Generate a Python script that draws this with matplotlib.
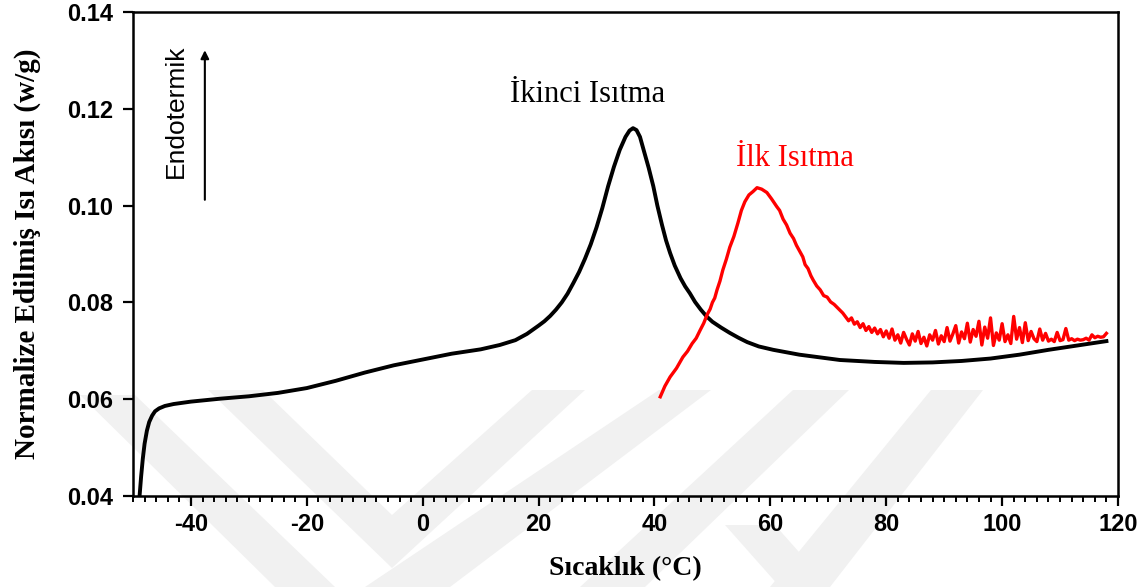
import numpy as np
import matplotlib.pyplot as plt
from matplotlib.patches import Polygon

plt.rcParams['axes.unicode_minus'] = False

# ikinci isitma (black)
x_ikinci = [-48.9, -48.6, -48.3, -48.0, -47.6, -47.2, -46.7, -46.2, -45.5, -44.5,
            -43.0, -40.0, -35.0, -30.0, -25.0, -20.0, -15.0, -10.0, -5.0, 0.0,
            5.0, 10.0, 13.3, 16.0, 18.0, 20.0, 21.0, 22.0, 23.0, 24.0,
            25.0, 26.0, 27.0, 28.0, 29.0, 30.0, 31.0, 32.0, 33.0, 34.0,
            35.0, 35.7, 36.3, 36.9, 37.5, 38.2, 39.0, 39.8, 40.5, 41.3,
            42.0, 42.7, 43.5, 44.5, 45.3, 46.1, 47.0, 48.0, 49.0, 50.0,
            51.5, 53.0, 54.5, 56.0, 58.0, 60.5, 65.0, 72.0, 78.0, 83.0,
            88.0, 93.0, 98.0, 103.0, 108.0, 113.0, 118.0]
y_ikinci = [0.0395, 0.0440, 0.0478, 0.0508, 0.0535, 0.0553, 0.0566, 0.0575, 0.0581, 0.0586,
            0.0590, 0.0595, 0.0601, 0.0606, 0.0613, 0.0623, 0.0638, 0.0655, 0.0670, 0.0682,
            0.0694, 0.0703, 0.0712, 0.0722, 0.0735, 0.0752, 0.0761, 0.0772, 0.0785, 0.0800,
            0.0818, 0.0840, 0.0863, 0.0890, 0.0920, 0.0955, 0.0995, 0.1040, 0.1080, 0.1115,
            0.1142, 0.1155, 0.1160, 0.1156, 0.1142, 0.1112, 0.1078, 0.1040, 0.1000, 0.0960,
            0.0928, 0.0902, 0.0876, 0.0850, 0.0833, 0.0819, 0.0801, 0.0785, 0.0771, 0.0760,
            0.0748, 0.0737, 0.0727, 0.0718, 0.0709, 0.0702, 0.0692, 0.0681, 0.0677, 0.0675,
            0.0676, 0.0679, 0.0684, 0.0692, 0.0702, 0.0711, 0.0720]

# ilk isitma (red), rising edge and peak
x_ilk = [41.0, 41.8, 42.7, 43.8, 44.9, 45.7, 46.5, 47.2, 47.9, 48.5,
         49.1, 49.6, 50.0, 50.4, 50.8, 51.3, 51.8, 52.4, 53.0, 53.7,
         54.4, 55.0, 55.6, 56.3, 57.0, 57.7, 58.5, 59.4, 60.2, 61.1,
         61.6, 62.2, 62.8, 63.4, 64.0, 64.5, 65.1, 65.6, 66.0, 66.5,
         67.0, 67.4, 68.0, 68.6, 69.2, 69.8, 70.4, 71.0, 71.5]
y_ilk = [0.0605, 0.0627, 0.0646, 0.0664, 0.0687, 0.0699, 0.0715, 0.0726, 0.0743, 0.0757,
         0.0775, 0.0786, 0.0800, 0.0809, 0.0826, 0.0844, 0.0867, 0.0889, 0.0914, 0.0936,
         0.0964, 0.0990, 0.1008, 0.1022, 0.1029, 0.1037, 0.1034, 0.1027, 0.1014, 0.0998,
         0.0990, 0.0972, 0.0960, 0.0943, 0.0932, 0.0918, 0.0905, 0.0894, 0.0878, 0.0870,
         0.0855, 0.0846, 0.0834, 0.0826, 0.0814, 0.0811, 0.0801, 0.0796, 0.0790]

# noisy baseline after the melt, sampled every 0.5 C from 72 to 118
y_ilk_tail = [0.0784, 0.0778, 0.0770, 0.0762, 0.0768, 0.0755, 0.0760,
              0.0748, 0.0756, 0.0742, 0.0750, 0.0738, 0.0747, 0.0735, 0.0744, 0.0729, 0.0741,
              0.0726, 0.0745, 0.0722, 0.0733, 0.0716, 0.0738, 0.0724, 0.0712, 0.0735, 0.0720,
              0.0740, 0.0715, 0.0728, 0.0710, 0.0733, 0.0722, 0.0742, 0.0714, 0.0731, 0.0719,
              0.0748, 0.0720, 0.0735, 0.0752, 0.0716, 0.0739, 0.0725, 0.0757, 0.0718, 0.0744,
              0.0730, 0.0761, 0.0712, 0.0749, 0.0726, 0.0768, 0.0711, 0.0737, 0.0722, 0.0756,
              0.0719, 0.0733, 0.0715, 0.0771, 0.0724, 0.0748, 0.0717, 0.0758, 0.0721, 0.0740,
              0.0725, 0.0719, 0.0745, 0.0722, 0.0736, 0.0720, 0.0724, 0.0719, 0.0738, 0.0721,
              0.0723, 0.0746, 0.0722, 0.0725, 0.0721, 0.0724, 0.0722, 0.0723, 0.0726, 0.0722,
              0.0733, 0.0727, 0.0730, 0.0728, 0.0729, 0.0736]
x_ilk_tail = np.arange(72.0, 118.01, 0.5)

fig = plt.figure(figsize=(11.42, 5.87), dpi=100)
W, H = 1142, 587

# faint background logo stripes (pixel coords, y from top)
stripes = [
    [(80, 395), (135, 395), (335, 587), (275, 587)],
    [(208, 390), (263, 390), (392, 515), (532, 390), (585, 390), (392, 568)],
    [(365, 587), (450, 587), (711, 390), (659, 390)],
    [(793, 390), (849, 390), (645, 587), (580, 587)],
    [(931, 390), (983, 390), (830, 587), (770, 587)],
    [(725, 525), (775, 525), (830, 587), (780, 587)],
]
for s in stripes:
    pts = [(px / W, 1 - py / H) for px, py in s]
    fig.patches.append(Polygon(pts, closed=True, transform=fig.transFigure,
                               facecolor='#f1f1f1', edgecolor='none', zorder=-5))

ax = fig.add_axes([133 / W, 1 - 496 / H, (1118 - 133) / W, (496 - 12) / H])
ax.set_zorder(1)
ax.patch.set_alpha(0)

ax.plot(x_ikinci, y_ikinci, color='black', lw=2.8, solid_joinstyle='round')
ax.plot(list(x_ilk) + list(x_ilk_tail), y_ilk + y_ilk_tail, color='#ff0000', lw=2.4,
        solid_joinstyle='round')

ax.set_xlim(-50, 120)
ax.set_ylim(0.04, 0.14)
ax.set_xticks(np.arange(-40, 121, 20))
ax.set_xticks(np.arange(-50, 121, 2), minor=True)
ax.set_yticks([0.04, 0.06, 0.08, 0.10, 0.12, 0.14])
ax.set_yticklabels(['0.04', '0.06', '0.08', '0.10', '0.12', '0.14'])

for sp in ax.spines.values():
    sp.set_linewidth(1.8)
ax.tick_params(which='major', direction='out', length=7, width=1.6)
ax.tick_params(which='minor', direction='out', length=4, width=1.4)
ax.tick_params(axis='y', pad=7)
ax.tick_params(axis='x', pad=5)

for lab in ax.get_yticklabels():
    lab.set_fontfamily('Liberation Sans')
    lab.set_fontweight('bold')
    lab.set_fontsize(17)
for lab in ax.get_xticklabels():
    lab.set_fontfamily('Liberation Sans')
    lab.set_fontweight('bold')
    lab.set_fontsize(17)

ax.set_ylabel('Normalize Edilmiş Isı Akısı (w/g)', family='Liberation Serif',
              fontweight='bold', fontsize=21, va='center')
ax.yaxis.set_label_coords(-0.1076, 0.5)
ax.set_xlabel('Sıcaklık (°C)', family='Liberation Serif', fontweight='bold',
              fontsize=20, va='center')
ax.xaxis.set_label_coords(0.5, -0.149)

ax.text(28.5, 0.1214, 'İkinci Isıtma', family='Liberation Serif', fontsize=22,
        ha='center', va='baseline', color='black')
ax.text(64.2, 0.1082, 'İlk Isıtma', family='Liberation Serif', fontsize=22,
        ha='center', va='baseline', color='#ff0000')
ax.text(-42.6, 0.1195, 'Endotermik', family='Liberation Sans', fontsize=19,
        rotation=90, ha='center', va='center')
ax.annotate('', xy=(-37.6, 0.1321), xytext=(-37.6, 0.1012),
            arrowprops=dict(arrowstyle='-|>', color='black', lw=1.5,
                            mutation_scale=12, shrinkA=0, shrinkB=0))

plt.savefig('out.png', dpi=100)
